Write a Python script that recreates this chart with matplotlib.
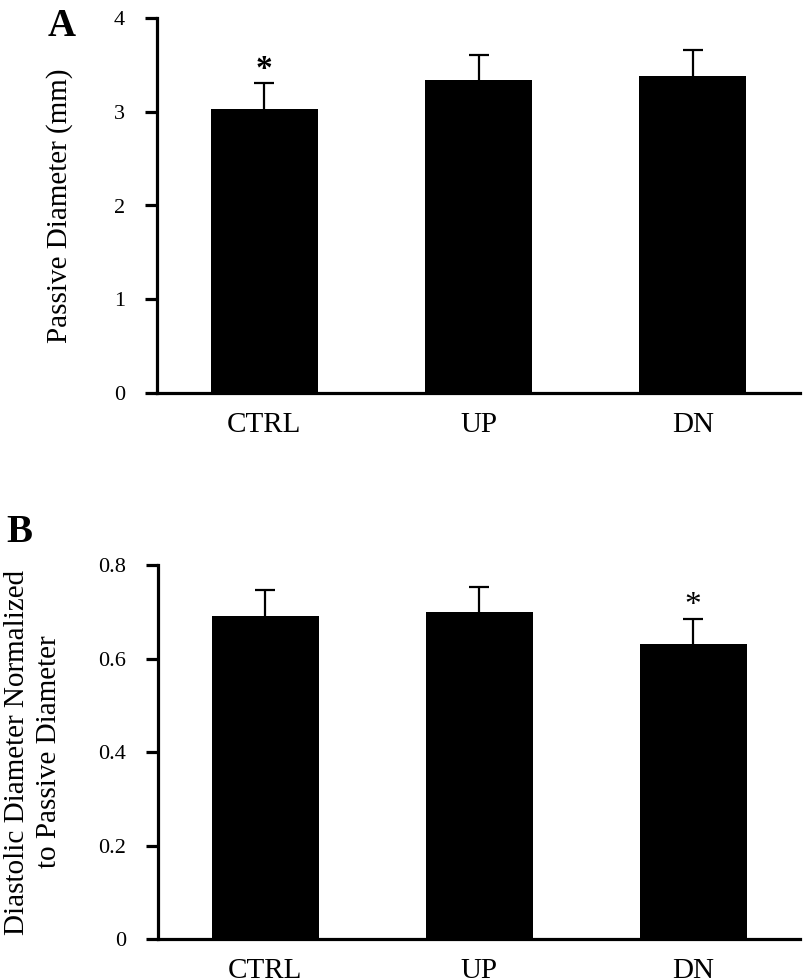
import matplotlib
matplotlib.use("Agg")
import matplotlib.pyplot as plt

plt.rcParams["font.family"] = ["Liberation Serif", "DejaVu Serif"]

groups = ["CTRL", "UP", "DN"]

# panel A: passive diameter (mm)
passive_mean = [3.03, 3.34, 3.38]
passive_err = [0.28, 0.27, 0.28]

# panel B: diastolic / passive diameter
ratio_mean = [0.69, 0.70, 0.63]
ratio_err = [0.056, 0.053, 0.055]

W, H = 805, 980
fig = plt.figure(figsize=(W / 100, H / 100), dpi=100)

ax_a = fig.add_axes([157 / W, 1 - 393 / H, 643 / W, 375 / H])
ax_b = fig.add_axes([158 / W, 1 - 939 / H, 642 / W, 374 / H])


def draw_panel(ax, means, errs, ymax, yticks, ticklabels):
    x = range(len(groups))
    ax.bar(x, means, width=0.5, color="black", zorder=2)
    eb = ax.errorbar(x, means, yerr=[[0] * len(errs), errs], fmt="none",
                     ecolor="black", elinewidth=1.6, capsize=7,
                     capthick=1.6, zorder=1)
    # only the upper cap is shown
    eb[1][0].set_visible(False)
    ax.set_xlim(-0.5, 2.5)
    ax.set_ylim(0, ymax)
    ax.set_xticks(list(x))
    ax.set_xticklabels(groups, fontsize=21)
    ax.set_yticks(yticks)
    ax.set_yticklabels(ticklabels, fontsize=16)
    ax.tick_params(axis="x", length=0, pad=14)
    ax.tick_params(axis="y", direction="out", length=9, width=2.3, pad=14)
    for side in ["top", "right"]:
        ax.spines[side].set_visible(False)
    for side in ["left", "bottom"]:
        ax.spines[side].set_linewidth(2.3)


draw_panel(ax_a, passive_mean, passive_err, 4, [0, 1, 2, 3, 4],
           ["0", "1", "2", "3", "4"])
draw_panel(ax_b, ratio_mean, ratio_err, 0.8, [0, 0.2, 0.4, 0.6, 0.8],
           ["0", "0.2", "0.4", "0.6", "0.8"])

ax_a.set_ylabel("Passive Diameter (mm)", fontsize=21, va="center")
ax_a.yaxis.set_label_coords(-0.152, 0.5)
ax_b.set_ylabel("Diastolic Diameter Normalized\nto Passive Diameter",
                fontsize=21, va="center", multialignment="center",
                linespacing=1.3)
ax_b.yaxis.set_label_coords(-0.195, 0.5)

# significance markers
ax_a.annotate("*", (0, passive_mean[0] + passive_err[0]), xytext=(0, -1.5),
              textcoords="offset points", ha="center", va="bottom",
              fontsize=24, fontweight="bold")
ax_b.annotate("*", (2, ratio_mean[2] + ratio_err[2]), xytext=(0, -1.5),
              textcoords="offset points", ha="center", va="bottom",
              fontsize=24)

fig.text(48 / W, 1 - 8 / H, "A", fontsize=28, fontweight="bold",
         ha="left", va="top")
fig.text(6 / W, 1 - 514 / H, "B", fontsize=28, fontweight="bold",
         ha="left", va="top")

fig.savefig("out.png", dpi=100)
